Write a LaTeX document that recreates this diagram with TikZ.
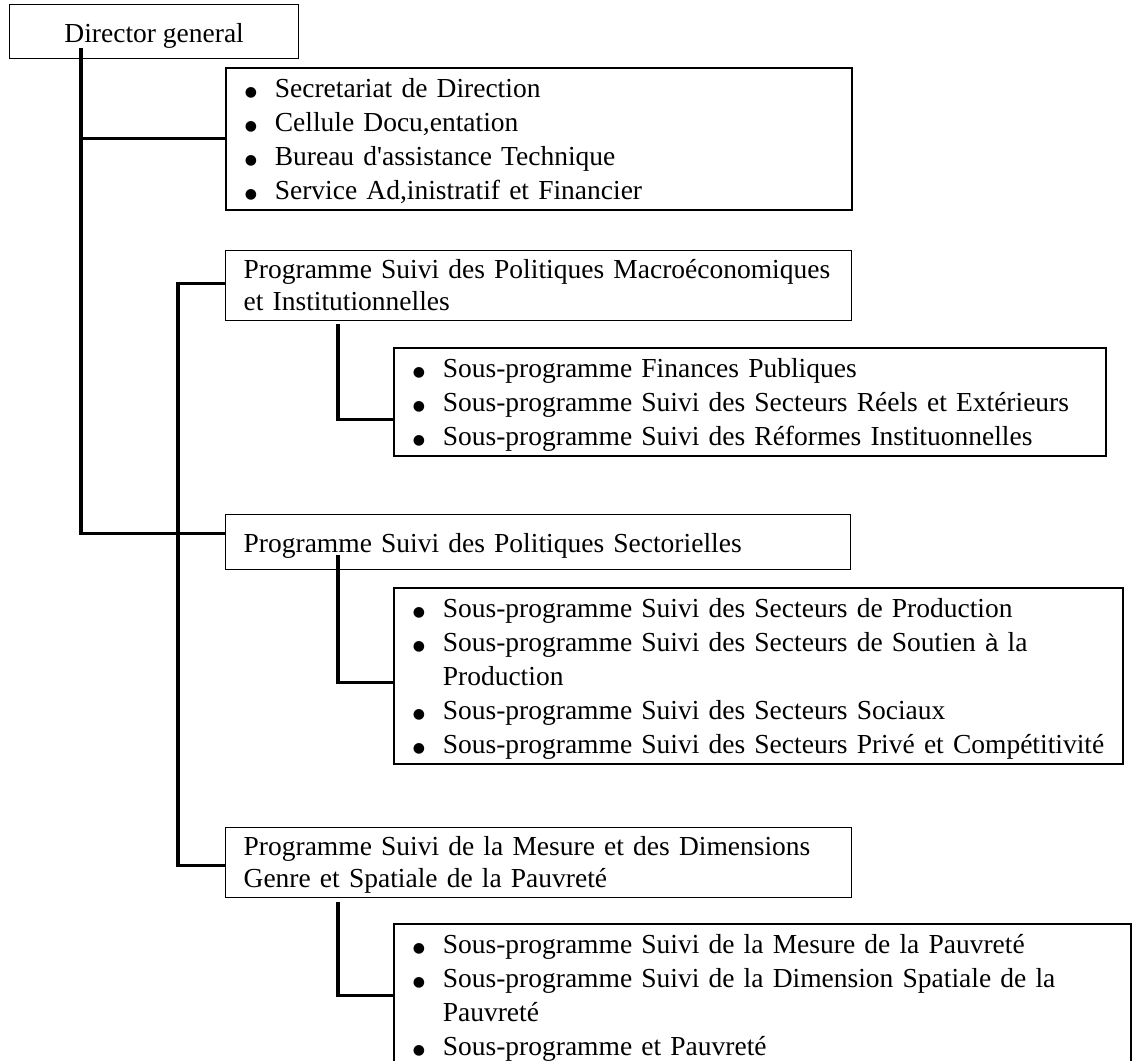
\documentclass[tikz,border=0pt]{standalone}
\usepackage{fontspec}
\setmainfont{Liberation Serif}
\newfontfamily\altsans{Liberation Sans}
\newfontfamily\symfont{DejaVu Sans}
\usetikzlibrary{calc}

% one bulleted entry, and the indented continuation of a wrapped entry
\newcommand{\dotb}{\raisebox{1.5pt}{\symfont\fontsize{14pt}{14pt}\selectfont ●}}
\newcommand{\itm}[1]{\makebox[30pt][l]{\dotb}\mbox{#1}}
\newcommand{\cont}[1]{\hspace*{30pt}\mbox{#1}}

\begin{document}
\begin{tikzpicture}[x=1pt,y=-1pt,
  every node/.style={font=\fontsize{27.5pt}{34pt}\selectfont},
  box/.style={draw=black, line width=1.3pt, anchor=north west, inner ysep=0pt, align=left},
  listbox/.style={box, line width=1.6pt, inner xsep=19pt},
  progbox/.style={box, inner xsep=18pt, font=\fontsize{27.5pt}{32pt}\selectfont},
  link/.style={line width=3.2pt, line join=miter}]

\fill[white] (0,0) rectangle (1140,1060);
\useasboundingbox (0,0) rectangle (1140,1060);
\clip (0,0) rectangle (1140,1060);

% head of the organisation
\node[box, minimum width=289pt, inner xsep=0pt, text height=38pt, text depth=16pt, align=center]
  (dg) at (9,4) {Director general};

% services attached to the direction
\node[listbox, text width=588pt, text height=30pt, text depth=112pt] (sec) at (225,67)
  {\itm{Secretariat de Direction}\\
   \itm{Cellule Docu,entation}\\
   \itm{Bureau d\textquotesingle assistance Technique}\\
   \itm{Service Ad,inistratif et Financier}};

% programme 1 and its sub-programmes
\node[progbox, text width=590pt, text height=28pt, text depth=42pt] (macro) at (225,250)
  {\mbox{Programme Suivi des Politiques Macroéconomiques}\\
   \mbox{et Institutionnelles}};

\node[listbox, text width=674pt, text height=30pt, text depth=78pt] (sub1) at (393,347)
  {\itm{Sous-programme Finances Publiques}\\
   \itm{Sous-programme Suivi des Secteurs Réels et Extérieurs}\\
   \itm{Sous-programme Suivi des Réformes Instituonnelles}};

% programme 2 and its sub-programmes
\node[progbox, text width=589pt, text height=38pt, text depth=17pt] (sect) at (225,514)
  {\mbox{Programme Suivi des Politiques Sectorielles}};

\node[listbox, text width=691pt, text height=30pt, text depth=146pt] (sub2) at (393,587)
  {\itm{Sous-programme Suivi des Secteurs de Production}\\
   \itm{Sous-programme Suivi des Secteurs de Soutien {\altsans\fontsize{24pt}{34pt}\selectfont à} la}\\
   \cont{Production}\\
   \itm{Sous-programme Suivi des Secteurs Sociaux}\\
   \itm{Sous-programme Suivi des Secteurs Privé et Compétitivité}};

% programme 3 and its sub-programmes
\node[progbox, text width=590pt, text height=28pt, text depth=42pt] (mesure) at (225,827)
  {\mbox{Programme Suivi de la Mesure et des Dimensions}\\
   \mbox{Genre et Spatiale de la Pauvreté}};

\node[listbox, text width=699pt, text height=30pt, text depth=137pt] (sub3) at (393,923)
  {\itm{Sous-programme Suivi de la Mesure de la Pauvreté}\\
   \itm{Sous-programme Suivi de la Dimension Spatiale de la}\\
   \cont{Pauvreté}\\
   \itm{Sous-programme et Pauvreté}};

% connectors
\coordinate (dgroot) at (81,48);
\draw[link] (dgroot) |- ([yshift=8.5pt]sect.west);
\draw[link] (dgroot |- sec.west) -- (sec.west);
\draw[link] ([yshift=2pt]macro.west) -- ++(-47,0) |- ([yshift=-3pt]mesure.west);
\draw[link] ($(macro.south west)+(113,3)$) |- ([yshift=-18pt]sub1.west);
\draw[link] ($(sect.north west)+(113,41)$) |- ([yshift=-7pt]sub2.west);
\draw[link] ($(mesure.south west)+(113,4)$) |- ([yshift=11.5pt]sub3.west);

\end{tikzpicture}
\end{document}
